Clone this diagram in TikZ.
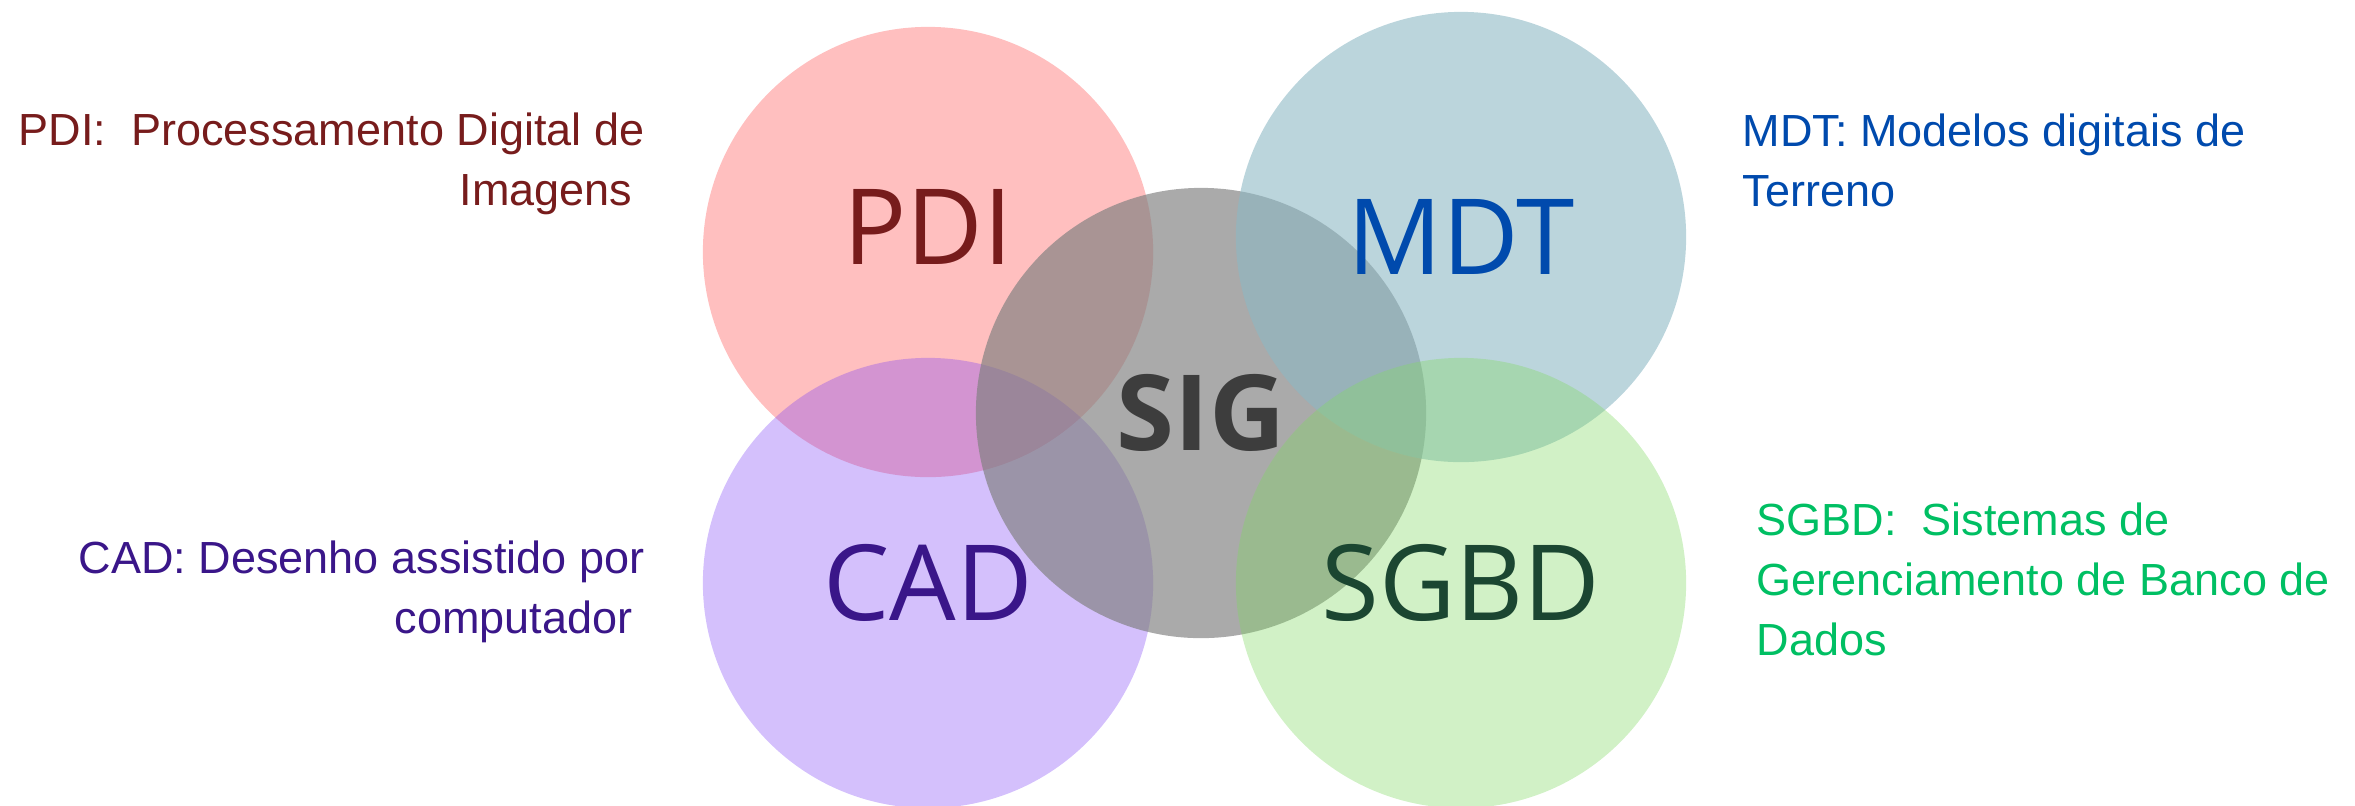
\documentclass[tikz,border=0pt]{standalone}
\usepackage{fontspec}
\setmainfont{Liberation Sans}
\newfontfamily\labelfont{Open Sans}
\usepackage{xcolor}
\definecolor{pdifill}{HTML}{FFBFBF}
\definecolor{cadfill}{RGB}{123,63,246}
\definecolor{sigfill}{RGB}{128,128,128}
\definecolor{mdtfill}{RGB}{140,184,196}
\definecolor{sgbdfill}{RGB}{129,217,99}
\definecolor{pditext}{HTML}{771C1C}
\definecolor{mdttext}{HTML}{004AAD}
\definecolor{cadtext}{HTML}{3A1689}
\definecolor{sgbdtext}{HTML}{1B4631}
\definecolor{sgbdnote}{HTML}{00BF63}
\definecolor{sigtext}{HTML}{3D3D3D}

\begin{document}
\begin{tikzpicture}[x=0.01cm,y=-0.01cm,
venn/.style={circle,minimum size=4.5cm,inner sep=0pt},
tag/.style={font=\labelfont\fontsize{29.9pt}{36pt}\selectfont,inner sep=0pt},
note/.style={font=\fontsize{12.8pt}{17.07pt}\selectfont,inner sep=0pt}]
\useasboundingbox (0,0) rectangle (2355,805);
\node [venn,fill=pdifill] (pdi) at (928,252) {};
\node [venn,fill=cadfill,fill opacity=0.33] (cad) at (928,583) {};
\node [venn,fill=sigfill,fill opacity=0.67] (sig) at (1201,413) {};
\node [venn,fill=mdtfill,fill opacity=0.59] (mdt) at (1461,237) {};
\node [venn,fill=sgbdfill,fill opacity=0.365] (sgbd) at (1461,583) {};
\node [tag,text=pditext,yshift=0.25cm] (pdilabel) at (pdi) {PDI};
\node [tag,text=mdttext] (mdtlabel) at (mdt) {MDT};
\node [tag,text=cadtext] (cadlabel) at (cad) {CAD};
\node [tag,text=sgbdtext] (sgbdlabel) at (sgbd) {SGBD};
\node [tag,text=sigtext,font=\labelfont\bfseries\fontsize{29.9pt}{36pt}\selectfont] (siglabel) at (sig) {SIG};
\node [note,text=pditext,align=right,anchor=north east] (pdinote) at (645,112) {PDI:\ \ Processamento Digital de\\Imagens\kern0.12cm};
\node [note,text=mdttext,align=left,anchor=north west] (mdtnote) at (1742,113) {MDT: Modelos digitais de\\Terreno};
\node [note,text=cadtext,align=right,anchor=north east] (cadnote) at (645,540) {CAD: Desenho assistido por\\computador\kern0.12cm};
\node [note,text=sgbdnote,align=left,anchor=north west] (sgbdnote) at (1756,502) {SGBD:\ \ Sistemas de\\Gerenciamento de Banco de\\Dados};
\end{tikzpicture}
\end{document}
